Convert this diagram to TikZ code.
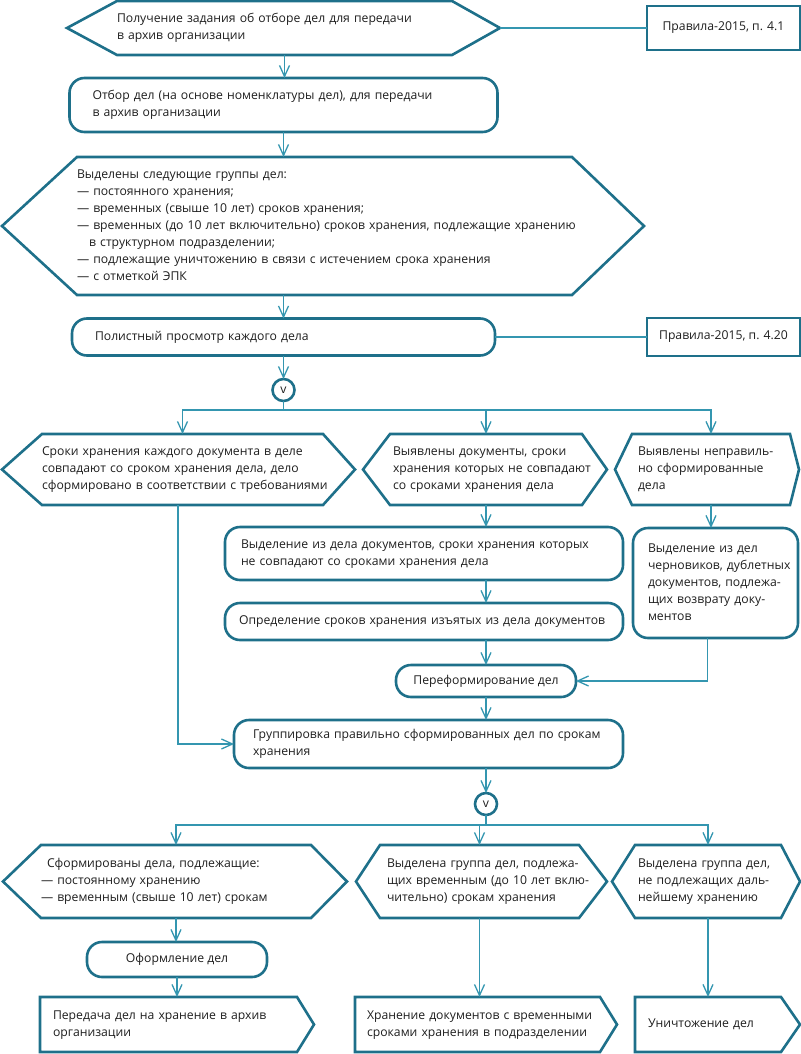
\documentclass[tikz,border=0pt]{standalone}
\usepackage{fontspec}
\setmainfont{Open Sans}
\usetikzlibrary{arrows.meta}

\definecolor{boxcol}{RGB}{30,112,138}
\definecolor{arrcol}{RGB}{52,150,176}
\definecolor{txtcol}{RGB}{30,30,30}

\tikzset{
  cell/.style={inner sep=0pt, outer sep=0pt, align=left, text=txtcol,
    font=\fontsize{12.2}{17}\selectfont},
  rbox/.style={cell, draw=boxcol, line width=2.6pt, rounded corners=15pt},
  sbox/.style={cell, draw=boxcol, line width=2.6pt, align=center},
  shell/.style={draw=boxcol, line width=2.6pt},
  junct/.style={cell, circle, draw=boxcol, line width=2.6pt, minimum size=22pt, align=center},
  arr/.style={draw=arrcol, line width=1.3pt, -{Straight Barb[length=11pt,width=10pt]}},
  link/.style={draw=arrcol, line width=1.3pt}
}

\newcommand{\txtlines}[1]{\begin{tabular}{@{}l@{}}#1\end{tabular}}
\newcommand{\hexa}[3]{\draw[shell] (#1.north west) -- (#1.north east) -- ([xshift=#3pt]#1.east) coordinate (#1-r) -- (#1.south east) -- (#1.south west) -- ([xshift=-#2pt]#1.west) coordinate (#1-l) -- cycle;}
\newcommand{\penta}[2]{\draw[shell] (#1.north west) -- (#1.north east) -- ([xshift=#2pt]#1.east) -- (#1.south east) -- (#1.south west) -- cycle;}

\begin{document}
\begin{tikzpicture}[x=1pt,y=-1pt]
\useasboundingbox (0,0) rectangle (800,1054);

\draw (284.5,28) node[cell,text width=335pt,minimum height=54pt](get) {\txtlines{Получение задания об отборе дел для передачи\\в архив организации}};
\hexa{get}{50}{48}
\draw (723.5,28) node[sbox,minimum width=153pt,minimum height=44pt](rulesa) {Правила-2015, п. 4.1};
\draw[link] (get-r) -- (rulesa);

\draw (283.5,105) node[rbox,inner xsep=23pt,text width=382pt,minimum height=54pt](select) {\txtlines{Отбор дел (на основе номенклатуры дел), для передачи\\в архив организации}};
\draw[arr] (get.south) -- (get.south |- select.north);

\draw (324.5,226) node[cell,text width=495pt,minimum height=138pt](groups) {\txtlines{Выделены следующие группы дел:\\— постоянного хранения;\\— временных (свыше 10 лет) сроков хранения;\\— временных (до 10 лет включительно) сроков хранения, подлежащие хранению\\\hspace*{1em}в структурном подразделении;\\— подлежащие уничтожению в связи с истечением срока хранения\\— с отметкой ЭПК}};
\hexa{groups}{75}{72}
\draw[arr] (select) -- (select |- groups.north);

\draw (283.5,337) node[rbox,inner xsep=23pt,text width=377pt,minimum height=37pt](view) {Полистный просмотр каждого дела};
\draw[arr] (select |- groups.south) -- (select |- view.north);
\draw (723.5,337) node[sbox,minimum width=153pt,minimum height=38pt](rulesb) {Правила-2015, п. 4.20};
\draw[link] (view) -- (rulesb);

\draw (283.5,390) node[junct](or1) {v};
\draw[arr] (view) -- (or1);
\coordinate (fork1) at (283.5,410);
\draw[link] (or1) -- (fork1);

\draw (182.5,469.5) node[cell,text width=281pt,minimum height=71pt](same) {\txtlines{Сроки хранения каждого документа в деле\\совпадают со сроком хранения дела, дело\\сформировано в соответствии с требованиями}};
\hexa{same}{40}{32}
\draw (486,469.5) node[cell,inner xsep=3pt,text width=186pt,minimum height=71pt](differ) {\txtlines{Выявлены документы, сроки\\хранения которых не совпадают\\со сроками хранения дела}};
\hexa{differ}{27}{25}
\draw (711,469.5) node[cell,inner xsep=6pt,text width=146pt,minimum height=71pt](wrong) {\txtlines{Выявлены неправиль-\\но сформированные\\дела}};
\hexa{wrong}{17}{9}
\draw[arr] (fork1) -| (same);
\draw[arr] (fork1) -| (differ);
\draw[arr] (fork1) -| (wrong);

\draw (424,553.5) node[rbox,inner xsep=16pt,text width=366pt,minimum height=53pt](extract) {\txtlines{Выделение из дела документов, сроки хранения которых\\не совпадают со сроками хранения дела}};
\draw (424,621.5) node[rbox,inner xsep=14pt,text width=370pt,minimum height=37pt](define) {\txtlines{Определение сроков хранения изъятых из дела документов}};
\draw (486,681) node[rbox,minimum width=180pt,minimum height=32pt,align=center](reform) {Переформирование дел};
\draw (715.5,583) node[rbox,inner xsep=15pt,text width=135pt,minimum height=110pt](drafts) {\txtlines{Выделение из дел\\черновиков, дублетных\\документов, подлежа-\\щих возврату доку-\\ментов}};
\draw[arr] (differ) -- (differ |- extract.north);
\draw[arr] (differ |- extract.south) -- (differ |- define.north);
\draw[arr] (differ |- define.south) -- (reform);
\draw[arr] (wrong) -- (wrong |- drafts.north);
\draw[arr] ([xshift=-8pt]drafts.south) |- (reform);

\draw (428.5,744) node[rbox,inner xsep=19pt,text width=351pt,minimum height=48pt](group2) {\txtlines{Группировка правильно сформированных дел по срокам\\хранения}};
\draw[arr] (reform) -- (reform |- group2.north);
\draw[arr] ([xshift=-4.5pt]same.south) |- (group2);

\draw (486,804) node[junct](or2) {v};
\draw[arr] (reform |- group2.south) -- (or2);
\coordinate (fork2) at (486,825);
\draw[link] (or2) -- (fork2);

\draw (176,881.5) node[cell,text width=270pt,minimum height=73pt](formed) {\txtlines{\hspace*{6pt}Сформированы дела, подлежащие:\\— постоянному хранению\\— временным (свыше 10 лет) срокам}};
\hexa{formed}{38}{36}
\draw (479.5,881.5) node[cell,inner xsep=7pt,text width=185pt,minimum height=73pt](temp) {\txtlines{Выделена группа дел, подлежа-\\щих временным (до 10 лет вклю-\\чительно) срокам хранения}};
\hexa{temp}{24}{28}
\draw (708,881.5) node[cell,inner xsep=3pt,text width=140pt,minimum height=73pt](destroy) {\txtlines{Выделена группа дел,\\не подлежащих даль-\\нейшему хранению}};
\hexa{destroy}{23}{19}
\draw[arr] (fork2) -| (formed);
\draw[arr] (fork2) -| (temp);
\draw[arr] (fork2) -| (destroy);

\draw (177,959.5) node[rbox,minimum width=180pt,minimum height=35pt,align=center](design) {Оформление дел};
\draw[arr] (formed) -- (formed |- design.north);

\draw (168.5,1024.5) node[cell,inner xsep=13pt,text width=231pt,minimum height=55pt](transfer) {\txtlines{Передача дел на хранение в архив\\организации}};
\penta{transfer}{17}
\draw (477.5,1024.5) node[cell,inner xsep=12pt,text width=221pt,minimum height=55pt](keep) {\txtlines{Хранение документов с временными\\сроками хранения в подразделении}};
\penta{keep}{17}
\draw (708,1024.5) node[cell,inner xsep=13pt,text width=120pt,minimum height=55pt](destroyed) {Уничтожение дел};
\penta{destroyed}{19}
\draw[arr] (design) -- (design |- transfer.north);
\draw[arr] (temp) -- (temp |- keep.north);
\draw[arr] (destroy) -- (destroy |- destroyed.north);
\end{tikzpicture}
\end{document}
